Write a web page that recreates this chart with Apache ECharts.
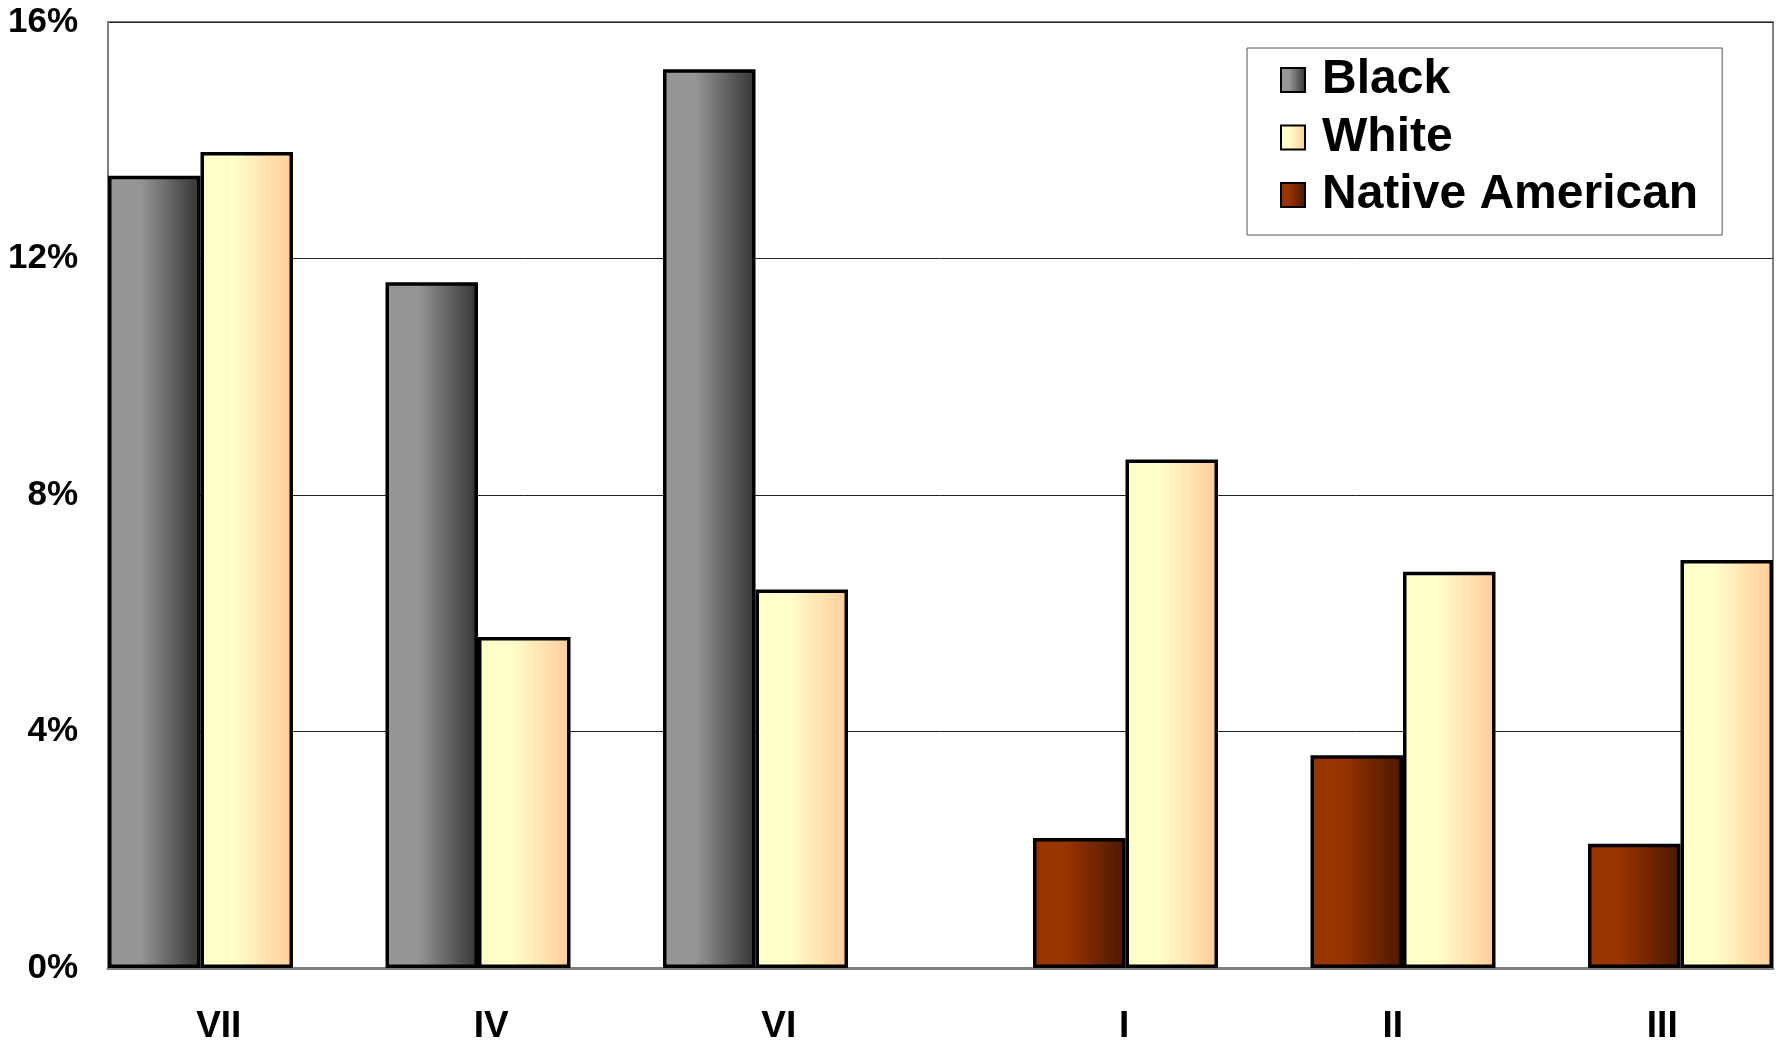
<!DOCTYPE html>
<html>
<head>
<meta charset="utf-8">
<script src="https://cdn.jsdelivr.net/npm/echarts@6/dist/echarts.min.js"></script>
<style>
  html, body { margin: 0; padding: 0; background: #fff; }
  #chart { width: 1783px; height: 1045px; }
</style>
</head>
<body>
<div id="chart"></div>
<script>
// ---- data ----
const categories = ['VII', 'IV', 'VI', 'I', 'II', 'III'];
const blackValues = [13.4, 11.6, 15.2, null, null, null];
const whiteValues = [13.8, 5.6, 6.4, 8.6, 6.7, 6.9];
const nativeValues = [null, null, null, 2.2, 3.6, 2.1];
const yTicks = [0, 4, 8, 12, 16];

// White bars sit in the 2nd slot when Black is present, otherwise in the 3rd slot
const whiteSlot2 = whiteValues.map((v, i) => blackValues[i] != null ? v : null);
const whiteSlot3 = whiteValues.map((v, i) => blackValues[i] != null ? null : v);

const FONT = '"Liberation Sans", Arial, sans-serif';

function grad(c0, c1) {
  return new echarts.graphic.LinearGradient(0, 0, 1, 0, [
    { offset: 0, color: c0 },
    { offset: 0.35, color: c0 },
    { offset: 1, color: c1 }
  ]);
}
const blackStyle = { color: grad('#969696', '#333333'), borderColor: '#000', borderWidth: 3.5 };
const whiteStyle = { color: grad('#FFFFCC', '#FFCC99'), borderColor: '#000', borderWidth: 3.5 };
const nativeStyle = { color: grad('#993300', '#4A1800'), borderColor: '#000', borderWidth: 3.5 };

// horizontal label nudges (styling only), keyed by category
const labelShift = { 'VII': -28, 'IV': -33, 'VI': -23, 'I': 45, 'II': 36, 'III': 28 };
const rich = {};
Object.keys(labelShift).forEach((k, i) => {
  const s = labelShift[k];
  rich['s' + i] = {
    fontFamily: FONT, fontWeight: 'bold', fontSize: 37, color: '#000',
    padding: s < 0 ? [0, -2 * s, 0, 0] : [0, 0, 0, 2 * s]
  };
});

const chart = echarts.init(document.getElementById('chart'), null, { renderer: 'canvas' });
chart.setOption({
  animation: false,
  backgroundColor: '#fff',
  grid: {
    left: 108, right: 10, top: 22, bottom: 68,
    show: true, borderColor: '#808080', borderWidth: 2, backgroundColor: 'transparent'
  },
  legend: {
    data: ['Black', 'White', 'Native American'],
    orient: 'vertical',
    left: 1247, top: 48,
    padding: [8, 24, 16, 33],
    icon: 'rect',
    itemWidth: 24, itemHeight: 24, itemGap: 9.5,
    backgroundColor: '#fff',
    borderColor: '#555', borderWidth: 1,
    textStyle: {
      fontFamily: FONT, fontWeight: 'bold', fontSize: 48, color: '#000',
      lineHeight: 48, padding: [0, 0, 0, 12]
    }
  },
  xAxis: {
    type: 'category',
    data: categories,
    axisTick: { show: false },
    axisLine: { lineStyle: { color: '#808080', width: 3 } },
    axisLabel: {
      margin: 40,
      interval: 0,
      formatter: (v) => '{s' + categories.indexOf(v) + '|' + v + '}',
      rich: rich
    }
  },
  yAxis: {
    type: 'value',
    min: yTicks[0], max: yTicks[yTicks.length - 1], interval: 4,
    axisLine: { show: true, lineStyle: { color: '#808080', width: 2 } },
    axisTick: { show: false },
    splitLine: { lineStyle: { color: '#222', width: 1 } },
    axisLabel: {
      margin: 30,
      formatter: '{value}%',
      fontFamily: FONT, fontWeight: 'bold', fontSize: 35, color: '#000'
    }
  },
  series: [
    { name: 'Black', type: 'bar', stack: 's1', data: blackValues, itemStyle: blackStyle,
      barGap: '0%', barCategoryGap: '0%' },
    { name: 'White', type: 'bar', stack: 's2', data: whiteSlot2, itemStyle: whiteStyle,
      barGap: '0%', barCategoryGap: '0%' },
    { name: 'Native American', type: 'bar', stack: 's2', data: nativeValues, itemStyle: nativeStyle,
      barGap: '0%', barCategoryGap: '0%' },
    { name: 'White', type: 'bar', stack: 's3', data: whiteSlot3, itemStyle: whiteStyle,
      barGap: '0%', barCategoryGap: '0%' }
  ]
});
</script>
</body>
</html>
